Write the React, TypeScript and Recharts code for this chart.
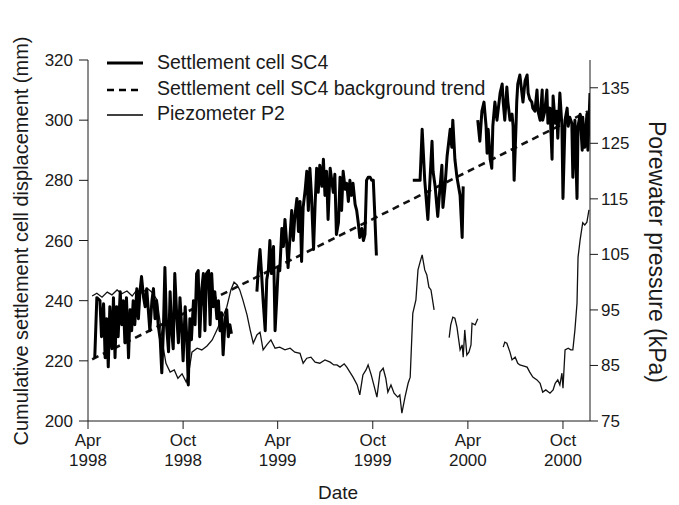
import React from 'react';
import { LineChart, Line, XAxis, YAxis } from 'recharts';

// x values are days since 1 April 1998
const DATE_TICKS = [0, 183, 365, 548, 731, 914];
const DATE_MONTHS = ['Apr', 'Oct', 'Apr', 'Oct', 'Apr', 'Oct'];
const DATE_YEARS = ['1998', '1998', '1999', '1999', '2000', '2000'];
const MM_TICKS = [200, 220, 240, 260, 280, 300, 320];
const KPA_TICKS = [75, 85, 95, 105, 115, 125, 135];

// Settlement cell SC4 (mm), null = no readings
const sc4Days = [
  13, 17, 23, 26, 30, 33, 36, 39, 42, 46, 49, 52, 55, 58, 62, 65, 68, 71, 74, 78,
  81, 84, 87, 90, 94, 97, 100, 103, 107, 110, 113, 116, 119, 123, 126, 129, 132, 135, 139, 142,
  145, 148, 151, 155, 158, 161, 164, 167, 171, 174, 177, 180, 183, 187, 190, 193, 196, 199, 203, 206,
  209, 212, 215, 219, 222, 225, 228, 232, 235, 238, 241, 244, 248, 251, 254, 257, 260, 264, 267, 270,
  273, 276,
  300,
  325, 328, 331, 334, 337, 341, 344, 347, 350, 353, 357, 360, 363, 366, 369, 373, 376, 379, 382, 385,
  389, 392, 395, 398, 402, 405, 408, 411, 414, 418, 421, 424, 427, 430, 434, 437, 440, 443, 446, 450,
  453, 456, 459, 462, 466, 469, 472, 475, 478, 482, 485, 488, 491, 495, 498, 501, 504, 507, 510, 514,
  517, 520, 523, 527, 530, 533, 536, 539, 543, 546, 549, 552, 555,
  590,
  625, 639, 643, 648, 654, 658, 662, 664, 668, 673, 677, 681, 683, 687, 691, 697, 700, 702, 706, 710,
  712, 716, 720, 722,
  735,
  750, 754, 758, 762, 766, 768, 770, 774, 777, 779, 783, 787, 789, 793, 797, 799, 802, 806, 808, 812,
  816, 818, 820, 824, 825, 827, 831, 835, 837, 841, 845, 847, 850, 854, 856, 860, 864, 866, 870, 874,
  875, 879, 883, 885, 889, 893, 895, 899, 902, 904, 908, 912, 914, 918, 922, 924, 927, 931, 933, 937,
  941, 943, 947, 951, 952, 956, 960, 962, 966,
];
const sc4Values = [
  221, 241, 240, 228, 239, 221, 234, 218, 238, 224, 241, 221, 238, 228, 243, 232, 240, 226, 241, 221,
  237, 230, 240, 232, 244, 234, 243, 248, 241, 238, 244, 237, 230, 240, 244, 234, 240, 232, 227, 216,
  230, 251, 232, 223, 243, 230, 224, 249, 234, 226, 241, 232, 220, 238, 228, 212, 234, 227, 240, 232,
  249, 250, 228, 244, 249, 230, 249, 250, 232, 249, 238, 243, 234, 240, 230, 236, 222, 234, 237, 228,
  232, 229,
  null,
  243, 251, 257, 249, 240, 230, 247, 250, 260, 249, 258, 230, 240, 251, 250, 264, 258, 267, 260, 251,
  262, 270, 260, 268, 274, 263, 273, 253, 271, 277, 283, 270, 284, 275, 257, 272, 284, 276, 285, 278,
  287, 275, 283, 267, 284, 280, 276, 282, 262, 266, 281, 270, 283, 277, 279, 273, 280, 275, 279, 272,
  270, 266, 261, 264, 260, 262, 280, 281, 281, 280, 280, 268, 255,
  null,
  280, 280, 297, 280, 267, 280, 293, 283, 278, 268, 277, 285, 271, 278, 288, 297, 291, 300, 287, 281,
  279, 275, 261, 278,
  null,
  300, 293, 303, 306, 298, 289, 297, 287, 284, 298, 306, 300, 303, 309, 312, 306, 300, 311, 306, 300,
  302, 298, 280, 300, 306, 312, 315, 309, 306, 313, 315, 309, 307, 306, 304, 303, 310, 303, 300, 310,
  300, 303, 310, 299, 304, 287, 308, 299, 303, 294, 309, 298, 274, 300, 304, 298, 301, 299, 281, 300,
  274, 298, 302, 290, 301, 291, 302, 290, 309,
];

// Background trend (mm)
const trendDays = [8, 962];
const trendValues = [220.5, 302.9];

// Piezometer P2 (kPa)
const piezoDays = [
  8, 17, 27, 37, 46, 56, 65, 75, 85, 94, 104, 114, 123, 133, 139, 144, 150, 158, 166, 173,
  181, 189, 194, 200, 210, 219, 229, 239, 248, 258, 267, 275, 281, 287, 292, 298, 306, 312, 318, 325,
  331, 337, 344, 352, 360, 369, 379, 389, 398, 408, 414, 421, 429, 437, 446, 456, 466, 473, 479, 485,
  493, 498, 504, 510, 518, 523, 529, 535, 539, 545, 550, 556, 562, 568, 573, 577, 583, 589, 596, 600,
  604, 610, 616, 620, 625, 631, 635, 639, 643, 648, 652, 656, 660, 666,
  680,
  695, 698, 702, 706, 710, 716, 720, 722, 725, 729, 733, 737, 739, 745, 750,
  775,
  799, 802, 806, 812, 816, 822, 827, 831, 839, 845, 850, 856, 864, 870, 875, 881, 889, 895, 899, 904,
  908, 912, 914, 918, 924, 929, 933, 937, 941, 943, 947, 952, 956, 960, 964,
];
const piezoValues = [
  97.5, 98.0, 97.3, 98.2, 97.7, 98.6, 97.9, 98.4, 97.5, 98.6, 98.0, 98.9, 98.2, 96.8, 92.6, 88.7, 85.4, 83.8, 84.2, 82.7,
  83.5, 82.0, 83.8, 87.4, 88.1, 87.8, 88.5, 89.6, 91.4, 93.5, 95.5, 98.6, 100.0, 99.5, 98.6, 96.8, 94.1, 91.4, 89.0, 90.5,
  91.0, 87.8, 88.7, 89.6, 88.1, 88.3, 87.8, 88.1, 87.4, 87.2, 85.4, 86.3, 86.5, 85.6, 85.4, 86.0, 85.6, 85.1, 85.1, 84.7,
  85.3, 84.7, 83.8, 82.9, 81.5, 79.7, 83.3, 84.2, 85.1, 83.3, 81.5, 79.3, 83.8, 84.5, 82.7, 80.2, 81.5, 80.0, 79.3, 79.7,
  76.4, 79.3, 81.8, 82.9, 94.4, 96.8, 102.2, 103.6, 104.9, 102.2, 101.3, 99.1, 98.6, 95.0,
  null,
  90.0, 92.3, 93.7, 93.5, 91.9, 87.8, 88.7, 86.5, 91.4, 86.9, 87.4, 88.7, 92.6, 92.3, 93.4,
  null,
  88.3, 89.2, 89.0, 87.4, 86.0, 86.5, 85.4, 85.1, 84.9, 84.7, 83.8, 82.9, 82.4, 81.8, 80.2, 80.6, 80.0, 80.6, 81.8, 82.4,
  81.5, 83.6, 80.9, 87.8, 88.1, 87.8, 87.8, 91.4, 96.2, 104.5, 107.6, 110.7, 110.3, 110.8, 113.0,
];

const sc4Data = sc4Days.map((day, i) => ({ day, mm: sc4Values[i] }));
const trendData = trendDays.map((day, i) => ({ day, mm: trendValues[i] }));
const piezoData = piezoDays.map((day, i) => ({ day, kpa: piezoValues[i] }));

const FONT = '"Liberation Sans", Arial, Helvetica, sans-serif';
const INK = '#1a1a1a';

function DateTick(props: any) {
  const { x, y, payload } = props;
  const i = DATE_TICKS.indexOf(payload.value);
  return (
    <text x={x} y={y} textAnchor="middle" fontSize={17} fill={INK} fontFamily={FONT}>
      <tspan x={x} dy={15}>{DATE_MONTHS[i]}</tspan>
      <tspan x={x} dy={20}>{DATE_YEARS[i]}</tspan>
    </text>
  );
}

export default function App() {
  const tickStyle = { fontSize: 17, fill: INK, fontFamily: FONT };
  return (
    <div style={{ position: 'absolute', left: 0, top: 0, width: 679, height: 505, background: '#fff' }}>
      <LineChart
        width={679}
        height={505}
        margin={{ top: 60, right: 39, bottom: 44, left: 28 }}
      >
        <XAxis
          dataKey="day"
          type="number"
          domain={[0, 966]}
          ticks={DATE_TICKS}
          tick={<DateTick />}
          tickSize={8}
          height={40}
          stroke={INK}
          allowDataOverflow
        />
        <YAxis
          yAxisId="mm"
          orientation="left"
          domain={[200, 320]}
          ticks={MM_TICKS}
          tick={tickStyle}
          tickSize={9}
          tickMargin={6}
          width={60}
          stroke={INK}
          allowDataOverflow
        />
        <YAxis
          yAxisId="kpa"
          orientation="right"
          domain={[75, 140]}
          ticks={KPA_TICKS}
          tick={tickStyle}
          tickSize={8}
          tickMargin={3}
          width={50}
          stroke={INK}
          allowDataOverflow
        />
        <Line
          yAxisId="kpa"
          data={piezoData}
          dataKey="kpa"
          stroke="#111"
          strokeWidth={1.3}
          dot={false}
          isAnimationActive={false}
        />
        <Line
          yAxisId="mm"
          data={trendData}
          dataKey="mm"
          stroke="#111"
          strokeWidth={2.6}
          strokeDasharray="7 5"
          dot={false}
          isAnimationActive={false}
        />
        <Line
          yAxisId="mm"
          data={sc4Data}
          dataKey="mm"
          stroke="#000"
          strokeWidth={3}
          strokeLinejoin="round"
          dot={false}
          isAnimationActive={false}
        />
      </LineChart>

      {/* titles and legend */}
      <svg
        width={679}
        height={505}
        style={{ position: 'absolute', left: 0, top: 0, pointerEvents: 'none' }}
        fontFamily={FONT}
        fill={INK}
      >
        <text x={0} y={0} fontSize={20} textAnchor="middle" transform="translate(28,241) rotate(-90)">
          Cumulative settlement cell displacement (mm)
        </text>
        <text x={0} y={0} fontSize={23} textAnchor="middle" transform="translate(649,252) rotate(90)">
          Porewater pressure (kPa)
        </text>
        <text x={338} y={499} fontSize={19} textAnchor="middle">Date</text>

        <line x1={107} x2={143} y1={63} y2={63} stroke="#000" strokeWidth={3} />
        <line x1={107} x2={143} y1={90} y2={90} stroke="#000" strokeWidth={2.6} strokeDasharray="7 5" />
        <line x1={107} x2={143} y1={115} y2={115} stroke="#000" strokeWidth={1.3} />
        <text x={157} y={69} fontSize={19.5}>Settlement cell SC4</text>
        <text x={157} y={95} fontSize={19.5}>Settlement cell SC4 background trend</text>
        <text x={157} y={120} fontSize={19.5}>Piezometer P2</text>
      </svg>
    </div>
  );
}
